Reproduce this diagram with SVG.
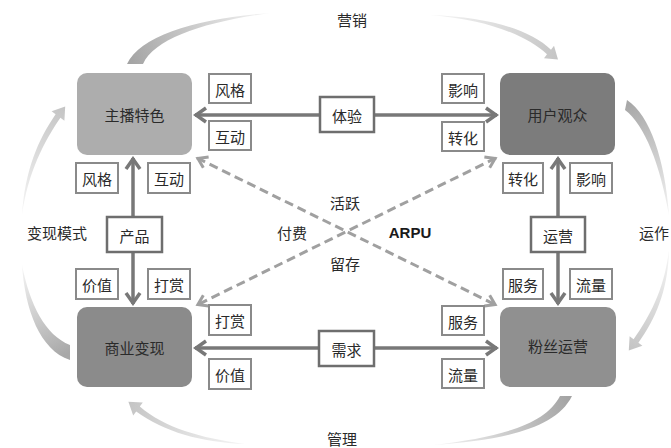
<svg xmlns="http://www.w3.org/2000/svg" width="671" height="448" viewBox="0 0 671 448">
<style>
text{font-family:"Noto Sans CJK SC","Liberation Sans",sans-serif;font-size:15px;fill:#2a2a2a;text-anchor:middle;dominant-baseline:central}
.node{stroke:none}
.lbl{fill:#fff;stroke:#8a8a8a;stroke-width:2}
.hub{fill:#fff;stroke:#6e6e6e;stroke-width:2.5}
.solid{stroke:#787878;stroke-width:3.5;fill:none}
.dash{stroke:#a0a0a0;stroke-width:3;stroke-dasharray:9 5;fill:none}
.en{font-family:"Liberation Sans",Arial,sans-serif;font-weight:bold;fill:#1a1a1a}
</style>
<defs>
<marker id="ah" viewBox="-14 -10 16 20" markerWidth="16" markerHeight="20" refX="0" refY="0" orient="auto-start-reverse" markerUnits="userSpaceOnUse">
<path d="M -11 -7 L -1 0 L -11 7" fill="none" stroke="#787878" stroke-width="3.5"/>
</marker>
<marker id="ahd" viewBox="-14 -10 16 20" markerWidth="16" markerHeight="20" refX="0" refY="0" orient="auto-start-reverse" markerUnits="userSpaceOnUse">
<path d="M -10 -6 L -1 0 L -10 6" fill="none" stroke="#a0a0a0" stroke-width="3" stroke-dasharray="none"/>
</marker>
<linearGradient id="gTL" gradientUnits="userSpaceOnUse" x1="130" y1="62" x2="270" y2="13"><stop offset="0" stop-color="#a4a4a4"/><stop offset="1" stop-color="#f6f6f6"/></linearGradient>
<linearGradient id="gTR" gradientUnits="userSpaceOnUse" x1="430" y1="15" x2="558" y2="60"><stop offset="0" stop-color="#f6f6f6"/><stop offset="1" stop-color="#c4c4c4"/></linearGradient>
<linearGradient id="gRT" gradientUnits="userSpaceOnUse" x1="627" y1="105" x2="669" y2="215"><stop offset="0" stop-color="#a8a8a8"/><stop offset="1" stop-color="#f4f4f4"/></linearGradient>
<linearGradient id="gRB" gradientUnits="userSpaceOnUse" x1="669" y1="250" x2="630" y2="350"><stop offset="0" stop-color="#f6f6f6"/><stop offset="1" stop-color="#c4c4c4"/></linearGradient>
<linearGradient id="gBR" gradientUnits="userSpaceOnUse" x1="568" y1="397" x2="433" y2="445"><stop offset="0" stop-color="#a4a4a4"/><stop offset="1" stop-color="#f6f6f6"/></linearGradient>
<linearGradient id="gBL" gradientUnits="userSpaceOnUse" x1="245" y1="444" x2="128" y2="402"><stop offset="0" stop-color="#f6f6f6"/><stop offset="1" stop-color="#c4c4c4"/></linearGradient>
<linearGradient id="gLB" gradientUnits="userSpaceOnUse" x1="70" y1="352" x2="22" y2="265"><stop offset="0" stop-color="#a8a8a8"/><stop offset="1" stop-color="#f6f6f6"/></linearGradient>
<linearGradient id="gLT" gradientUnits="userSpaceOnUse" x1="22" y1="215" x2="65" y2="106"><stop offset="0" stop-color="#f6f6f6"/><stop offset="1" stop-color="#c4c4c4"/></linearGradient>
</defs>
<rect width="671" height="448" fill="#fff"/>

<g id="cycle">
<path d="M 127 64 C 140 35 200 18 270 13 C 205 22 155 38 143 64 Z" fill="url(#gTL)"/>
<path d="M 430 15 C 490 17 530 30 551 49.7 L 554 45.8 L 558 59.6 L 544 58.2 L 547 54.3 C 527 36 490 20 430 15 Z" fill="url(#gTR)"/>
<path d="M 627 100 C 650 115 665 160 669 215 C 660 165 645 125 625 110 Z" fill="url(#gRT)"/>
<path d="M 669 250 C 668 290 656 318 638.4 342.8 L 642.4 345.8 L 628.8 350.6 L 629.6 336.2 L 633.6 339.2 C 650 316 664 290 669 250 Z" fill="url(#gRB)"/>
<path d="M 572 396 C 555 430 500 440 433 445 C 500 437 545 425 560 396 Z" fill="url(#gBR)"/>
<path d="M 245 444 C 200 438 165 428 139.8 406.6 L 142.8 402.6 L 128.4 401.8 L 133.2 415.4 L 136.2 411.4 C 165 432 200 442 245 444 Z" fill="url(#gBL)"/>
<path d="M 70 360 C 40 350 25 310 22 265 C 30 305 45 335 70 345 Z" fill="url(#gLB)"/>
<path d="M 22 215 C 25 170 38 140 55.6 114.2 L 51.6 111.2 L 65.2 106.4 L 64.4 120.8 L 60.4 117.8 C 44 142 28 172 22 215 Z" fill="url(#gLT)"/>
<text x="352" y="19">营销</text>
<text x="654" y="232">运作</text>
<text x="342" y="438">管理</text>
<text x="57" y="232">变现模式</text>
</g>

<g id="connectors">
<line class="dash" x1="197" y1="158" x2="496" y2="305" marker-start="url(#ahd)" marker-end="url(#ahd)"/>
<line class="dash" x1="496" y1="158" x2="197" y2="305" marker-start="url(#ahd)" marker-end="url(#ahd)"/>
<line class="solid" x1="195" y1="115" x2="497" y2="115" marker-start="url(#ah)" marker-end="url(#ah)"/>
<line class="solid" x1="195" y1="348" x2="497" y2="348" marker-start="url(#ah)" marker-end="url(#ah)"/>
<line class="solid" x1="133" y1="158" x2="133" y2="304" marker-start="url(#ah)" marker-end="url(#ah)"/>
<line class="solid" x1="558" y1="158" x2="558" y2="304" marker-start="url(#ah)" marker-end="url(#ah)"/>
<text x="345" y="202">活跃</text>
<text x="292" y="232">付费</text>
<text class="en" x="410" y="232">ARPU</text>
<text x="345" y="263">留存</text>
</g>

<g id="hub-tiyan"><rect class="hub" x="320" y="97" width="54" height="35"/><text x="347" y="115">体验</text></g>
<g id="hub-chanpin"><rect class="hub" x="107" y="217" width="55" height="35"/><text x="134.5" y="235">产品</text></g>
<g id="hub-yunying"><rect class="hub" x="531" y="217" width="54" height="35"/><text x="558" y="235">运营</text></g>
<g id="hub-xuqiu"><rect class="hub" x="319" y="331" width="55" height="35"/><text x="346.5" y="349">需求</text></g>

<g id="node-zhubo"><rect class="node" x="77" y="73" width="115" height="82" rx="10" fill="#adadad"/><text x="134.5" y="114">主播特色</text></g>
<g id="node-yonghu"><rect class="node" x="500" y="73" width="115" height="82" rx="10" fill="#7c7c7c"/><text x="557.5" y="114">用户观众</text></g>
<g id="node-shangye"><rect class="node" x="77" y="307" width="115" height="80" rx="10" fill="#8b8b8b"/><text x="134.5" y="347">商业变现</text></g>
<g id="node-fensi"><rect class="node" x="500" y="307" width="116" height="80" rx="10" fill="#909090"/><text x="558" y="345">粉丝运营</text></g>

<g id="labels">
<rect class="lbl" x="209" y="74" width="42" height="29"/><text x="230" y="89">风格</text>
<rect class="lbl" x="209" y="121" width="42" height="29"/><text x="230" y="136">互动</text>
<rect class="lbl" x="442" y="74" width="42" height="29"/><text x="463" y="89">影响</text>
<rect class="lbl" x="442" y="122" width="42" height="29"/><text x="463" y="137">转化</text>
<rect class="lbl" x="76" y="163" width="42" height="30"/><text x="97" y="178">风格</text>
<rect class="lbl" x="148" y="163" width="42" height="30"/><text x="169" y="178">互动</text>
<rect class="lbl" x="76" y="269" width="42" height="30"/><text x="97" y="284">价值</text>
<rect class="lbl" x="148" y="269" width="42" height="30"/><text x="169" y="284">打赏</text>
<rect class="lbl" x="503" y="163" width="40" height="30"/><text x="523" y="178">转化</text>
<rect class="lbl" x="570" y="163" width="42" height="30"/><text x="591" y="178">影响</text>
<rect class="lbl" x="503" y="269" width="40" height="30"/><text x="523" y="284">服务</text>
<rect class="lbl" x="570" y="269" width="42" height="30"/><text x="591" y="284">流量</text>
<rect class="lbl" x="209" y="305" width="42" height="30"/><text x="230" y="320">打赏</text>
<rect class="lbl" x="209" y="359" width="42" height="30"/><text x="230" y="374">价值</text>
<rect class="lbl" x="442" y="306" width="42" height="29"/><text x="463" y="321">服务</text>
<rect class="lbl" x="442" y="359" width="42" height="29"/><text x="463" y="374">流量</text>
</g>
</svg>
